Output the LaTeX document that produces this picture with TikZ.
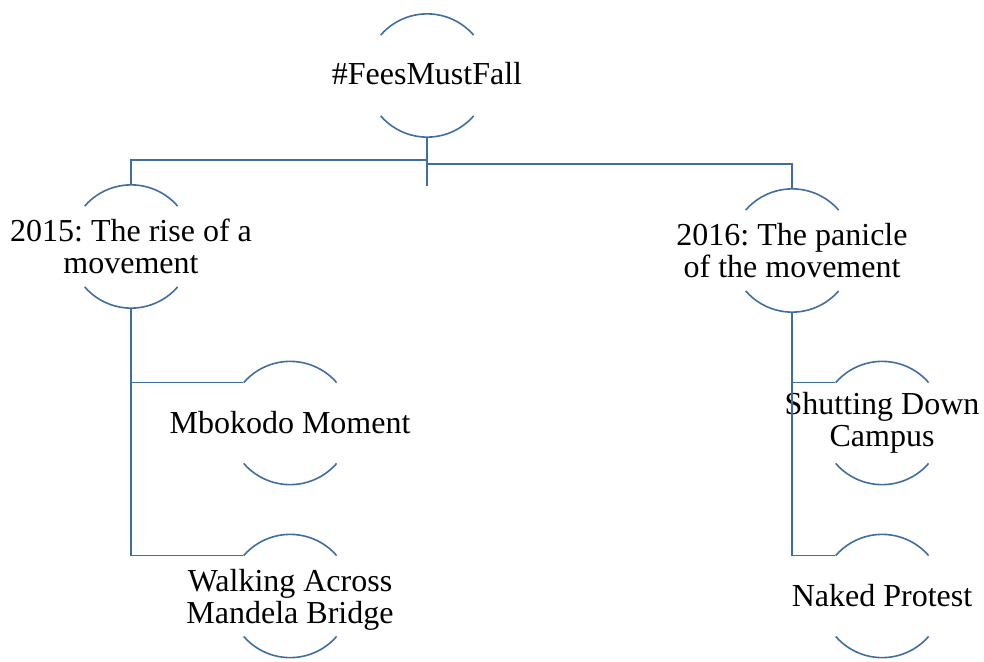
\documentclass[tikz,border=0pt]{standalone}
\usepackage{fontspec}
\setmainfont{Liberation Serif}
\usetikzlibrary{calc}
\definecolor{lineblue}{RGB}{65,110,160}
\frenchspacing
\begin{document}
\begin{tikzpicture}[x=1pt,y=1pt,
  ring/.style={circle,draw=none,minimum size=123pt,inner sep=0pt},
  lbl/.style={inner sep=0pt,align=center,anchor=base,font=\fontsize{32}{32}\selectfont\frenchspacing,text=black},
  arcline/.style={draw=lineblue,line width=1.6pt},
  conn/.style={draw=lineblue,line width=1.6pt}]
\useasboundingbox (0,0) rectangle (984,-661);
% centres
\node[ring] (root) at (427,-75.5) {};
\node[ring] (n15)  at (131,-246.5) {};
\node[ring] (n16)  at (792,-250.5) {};
\node[ring] (mbo)  at (290,-423) {};
\node[ring] (walk) at (290,-596) {};
\node[ring] (shut) at (882,-423) {};
\node[ring] (naked) at (882,-596) {};
% labels (anchored at the baseline of the last line)
\node[lbl] (troot) at (427,-84.5) {\#FeesMustFall};
\node[lbl] (t15) at (131,-273) {2015: The rise of a\\movement};
\node[lbl] (t16) at (792,-277) {2016: The panicle\\of the movement};
\node[lbl] (tmbo) at (290,-433) {Mbokodo Moment};
\node[lbl] (twalk) at (290,-623) {Walking Across\\Mandela Bridge};
\node[lbl] (tshut) at (882,-446) {Shutting Down\\Campus};
\node[lbl] (tnaked) at (882,-606) {Naked Protest};
% arcs
\foreach \n in {root,n15,n16,mbo,walk,shut,naked}{
  \draw[arcline] (\n.41) arc (41:139:61.5);
  \draw[arcline] (\n.-41) arc (-41:-139:61.5);
}
% connectors
\draw[conn] (root.south) -- ++(0,-49);
\draw[conn] ($(root.south)+(0,-23)$) -| (n15.north);
\draw[conn] ($(root.south)+(0,-26.5)$) -| (n16.north);
\draw[conn] (n15.south) |- (walk.139);
\draw[conn] (n15.south |- mbo.139) -- (mbo.139);
\draw[conn] (n16.south) |- (naked.139);
\draw[conn] (n16.south |- shut.139) -- (shut.139);
\end{tikzpicture}
\end{document}
